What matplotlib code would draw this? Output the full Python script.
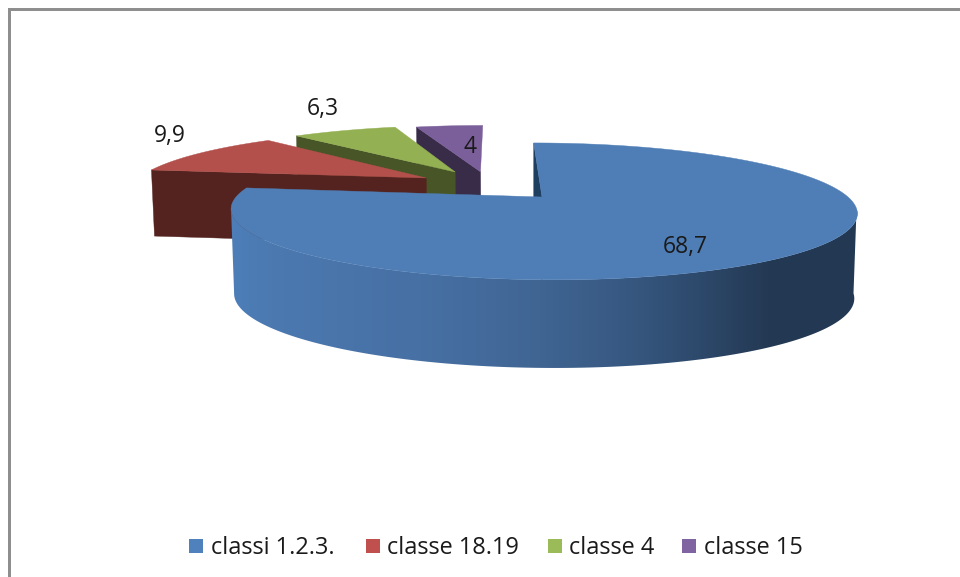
import numpy as np
import matplotlib
matplotlib.use("Agg")
import matplotlib.pyplot as plt
from matplotlib.patches import Polygon, Rectangle
from matplotlib.colors import LinearSegmentedColormap

categories = ["classi 1.2.3.", "classe 18.19", "classe 4", "classe 15"]
values = [68.7, 9.9, 6.3, 4.0]
value_labels = ["68,7", "9,9", "6,3", "4"]

top_colors = ["#4F7EB6", "#B3504C", "#93B052", "#7B5F9A"]
cut_colors = ["#1F3F60", "#54231F", "#475527", "#382C49"]
legend_colors = ["#4F81BD", "#C0504D", "#9BBB59", "#8064A2"]
explode_offsets = [(0.0, 0.0), (-0.393, 0.31), (-0.295, 0.416), (-0.205, 0.42)]
label_positions = [(685, 247), (170, 136), (323, 109), (470, 147)]
legend_square_x = [189, 366, 548, 682]
legend_text_x = [211, 387, 569, 704]

plt.rcParams["font.family"] = ["Open Sans", "DejaVu Sans"]
TEXT = "#1a1a1a"

fig = plt.figure(figsize=(9.6, 5.77), dpi=100)
ax = fig.add_axes([0, 0, 1, 1])
ax.set_xlim(0, 960)
ax.set_ylim(577, 0)
ax.axis("off")


def project(u, v, z=0.0):
    """Perspective view of the pie's unit disc; z=1 is the bottom rim."""
    u, v = np.asarray(u, float), np.asarray(v, float)
    s = 1 / (1 + 0.21 * v)
    x = 542 + ((306 - 3 * z) * u - 10 * v) * s
    y = 197 + 84 * z - (65.4 + 3.3 * z) * v * s
    return np.column_stack([np.atleast_1d(x), np.atleast_1d(y)])


def rim(a0, a1, off, z=0.0, n=200):
    t = np.radians(np.linspace(a0, a1, n))
    return project(off[0] + np.sin(t), off[1] + np.cos(t), z)


# frame (top and left only)
ax.add_patch(Rectangle((8, 8), 952, 2.5, fc="#8E8E8E", ec="none"))
ax.add_patch(Rectangle((8, 8), 2.5, 569, fc="#8E8E8E", ec="none"))

spans = np.cumsum([0] + values) / sum(values) * 360

# exploded slices, back to front
for i in [3, 2, 1]:
    a0, a1, off = spans[i], spans[i + 1], explode_offsets[i]
    edge = rim(a0, a0, off, n=1)
    apex = project(off[0], off[1])
    edge_b = rim(a0, a0, off, z=0.8, n=1)
    apex_b = project(off[0], off[1], 0.8)
    ax.add_patch(Polygon(np.vstack([edge, apex, apex_b, edge_b]),
                         fc=cut_colors[i], ec=cut_colors[i], lw=0.3))
    ax.add_patch(Polygon(np.vstack([apex, rim(a0, a1, off)]),
                         fc=top_colors[i], ec=top_colors[i], lw=0.3))

# main slice: cut face at the 12 o'clock edge
off = explode_offsets[0]
ax.add_patch(Polygon(np.vstack([project(0, 1), project(0, 0), project(0, 0, 1), project(0, 1, 1)]),
                     fc=cut_colors[0], ec=cut_colors[0], lw=0.3))

# main slice: shaded outer wall, one gradient clipped to the wall outline
stops_x = [225, 270, 420, 540, 640, 700, 770, 860]
stops_c = ["#4E7FB9", "#4B79B0", "#4770A4", "#406593",
           "#36567E", "#2D496B", "#243953", "#233852"]
cmap = LinearSegmentedColormap.from_list(
    "wall", [((x - 225) / (860 - 225), c) for x, c in zip(stops_x, stops_c)])
top_rim = rim(100, 260, off, n=260)
bot_rim = rim(100, 260, off, z=1, n=260)
wall = Polygon(np.vstack([top_rim, bot_rim[::-1]]), fc="none", ec="none",
               transform=ax.transData)
ax.add_patch(wall)
im = ax.imshow(np.linspace(0, 1, 640)[None, :], cmap=cmap, vmin=0, vmax=1,
               extent=(225, 860, 400, 190), aspect="auto", interpolation="bilinear",
               zorder=1)
im.set_clip_path(wall)
ax.set_xlim(0, 960)
ax.set_ylim(577, 0)

# main slice: top face
ax.add_patch(Polygon(np.vstack([project(0, 0), rim(0, spans[1], off, n=400)]),
                     fc=top_colors[0], ec=top_colors[0], lw=0.3))

# value labels
for lab, (x, y) in zip(value_labels, label_positions):
    ax.text(x, y, lab, ha="center", va="center", fontsize=16.5, color=TEXT)

# legend
for name, col, sx, tx in zip(categories, legend_colors, legend_square_x, legend_text_x):
    ax.add_patch(Rectangle((sx, 539), 14, 14, fc=col, ec="none"))
    ax.text(tx, 548, name, ha="left", va="center", fontsize=16.9, color=TEXT)

fig.savefig("out.png", dpi=100)
